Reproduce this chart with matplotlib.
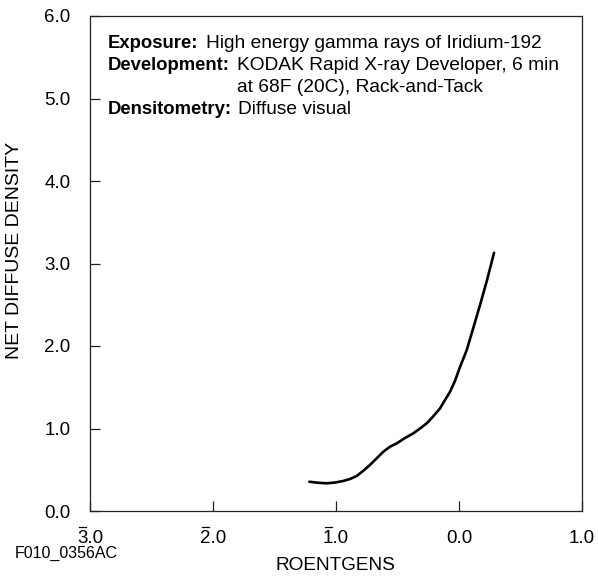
import matplotlib
matplotlib.use("Agg")
import matplotlib.pyplot as plt
from matplotlib.lines import Line2D

plt.rcParams['font.family'] = ['Liberation Sans', 'DejaVu Sans']

# log exposure (roentgens) and net diffuse density
log_exposure = [-1.217, -1.146, -1.076, -1.008, -0.941, -0.886, -0.832, -0.780,
                -0.724, -0.669, -0.615, -0.561, -0.506, -0.439, -0.372, -0.317,
                -0.263, -0.211, -0.154, -0.114, -0.073, -0.033, 0.008, 0.063,
                0.116, 0.171, 0.228, 0.285]
density = [0.355, 0.342, 0.336, 0.345, 0.364, 0.388, 0.424, 0.485,
           0.558, 0.639, 0.719, 0.779, 0.820, 0.885, 0.941, 1.000,
           1.062, 1.145, 1.244, 1.345, 1.445, 1.576, 1.745, 1.951,
           2.218, 2.497, 2.800, 3.130]

x_ticks = [-3, -2, -1, 0, 1]
x_tick_labels = ['3.0', '2.0', '1.0', '0.0', '1.0']
x_tick_negative = [True, True, True, False, False]   # bar-notation characteristic
y_ticks = [0, 1, 2, 3, 4, 5, 6]
y_tick_labels = ['0.0', '1.0', '2.0', '3.0', '4.0', '5.0', '6.0']

W, H = 598, 576
fig = plt.figure(figsize=(W / 100, H / 100), dpi=100)
L, R, T, B = 90, 582, 16, 511
ax = fig.add_axes([L / W, (H - B) / H, (R - L) / W, (B - T) / H])

ax.plot(log_exposure, density, color='black', lw=1.9,
        solid_capstyle='round', solid_joinstyle='round')

ax.set_xlim(-3, 1)
ax.set_ylim(0, 6)
ax.set_xticks(x_ticks)
ax.set_xticklabels(x_tick_labels)
ax.set_yticks(y_ticks)
ax.set_yticklabels(y_tick_labels)
ax.tick_params(axis='both', direction='in', length=7, width=0.9, labelsize=13.5,
               color='#222222', labelcolor='black')
ax.tick_params(axis='x', pad=13.5)
ax.tick_params(axis='y', pad=14)
for s in ax.spines.values():
    s.set_linewidth(0.9)
    s.set_color('#222222')

# overbars for negative characteristics
for xt, neg in zip(x_ticks, x_tick_negative):
    if neg:
        px, _ = ax.transData.transform((xt, 0))
        fig.add_artist(Line2D([(px - 11) / W, (px - 4) / W],
                              [1 - 527 / H, 1 - 527 / H],
                              color='black', lw=0.9))

ax.set_ylabel('NET DIFFUSE DENSITY', fontsize=14)
ax.yaxis.set_label_coords(-(90 - 23) / (R - L), (B - 250) / (B - T))
fig.text(335 / W, 1 - 566 / H, 'ROENTGENS', fontsize=13.7, ha='center', va='center')
fig.text(66 / W, 1 - 553 / H, 'F010_0356AC', fontsize=11.5, ha='center', va='center')

def ftxt(x, y, s, size=13.8, **kw):
    fig.text(x / W, 1 - y / H, s, fontsize=size, va='center', ha='left', **kw)

ftxt(108, 44, 'Exposure:', size=13.3, fontweight='bold')
ftxt(206, 44, 'High energy gamma rays of Iridium-192')
ftxt(108, 66, 'Development:', size=13.3, fontweight='bold')
ftxt(237, 66, 'KODAK Rapid X-ray Developer, 6 min')
ftxt(237, 87, 'at 68F (20C), Rack-and-Tack')
ftxt(108, 110, 'Densitometry:', size=13.3, fontweight='bold')
ftxt(238, 110, 'Diffuse visual')

fig.savefig('out.png', dpi=100)
